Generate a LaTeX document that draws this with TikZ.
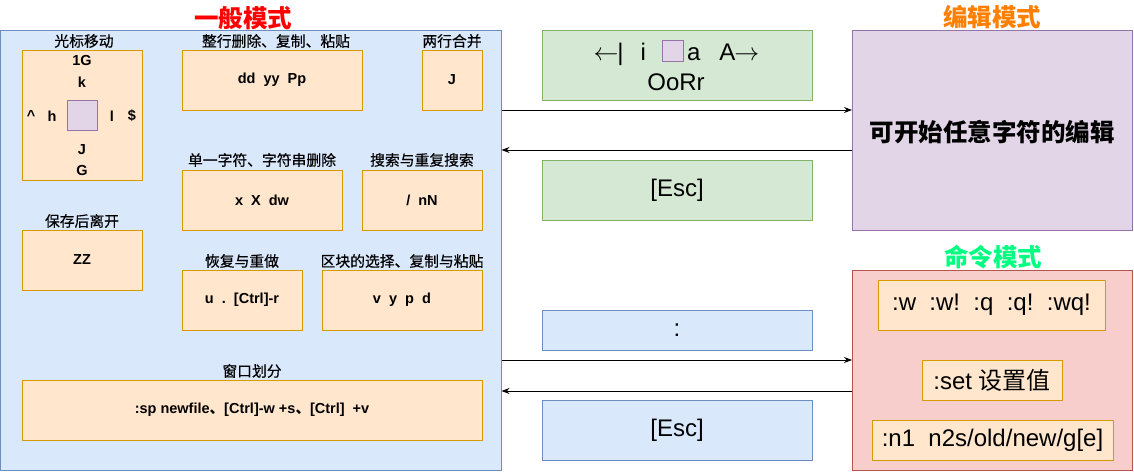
\documentclass[tikz,border=0pt]{standalone}
\usepackage{fontspec}
\setmainfont{Liberation Sans}
\newfontfamily\cjk{Noto Sans CJK SC}
\newfontfamily\cjkl[FakeBold=0.5]{Noto Sans CJK SC}
\usetikzlibrary{arrows.meta}
\definecolor{panelfill}{HTML}{DAE8FC}
\definecolor{panelline}{HTML}{6C8EBF}
\definecolor{ofill}{HTML}{FFE6CC}
\definecolor{oline}{HTML}{D79B00}
\definecolor{gfill}{HTML}{D5E8D4}
\definecolor{gline}{HTML}{82B366}
\definecolor{pfill}{HTML}{E1D5E7}
\definecolor{pline}{HTML}{9673A6}
\definecolor{rfill}{HTML}{F8CECC}
\definecolor{rline}{HTML}{B85450}
\definecolor{tred}{HTML}{FF0000}
\definecolor{torange}{HTML}{FF8000}
\definecolor{tgreen}{HTML}{00FF80}
\newcommand\fsz[1]{\fontsize{#1}{#1}\selectfont}
\begin{document}
\begin{tikzpicture}[x=1pt,y=-1pt,
  every node/.style={inner sep=0pt, outer sep=0pt},
  panel/.style={draw=panelline, fill=panelfill, line width=1pt},
  obox/.style={draw=oline, fill=ofill, line width=1pt},
  gbox/.style={draw=gline, fill=gfill, line width=1pt},
  bbox/.style={draw=panelline, fill=panelfill, line width=1pt},
  pbox/.style={draw=pline, fill=pfill, line width=1pt},
  rbox/.style={draw=rline, fill=rfill, line width=1pt},
  lbl/.style={font=\cjkl\fsz{14.8}},
  btxt/.style={font=\bfseries\fsz{14.5}},
  big/.style={font=\fsz{24}},
  ttl/.style={font=\cjk\bfseries\fsz{24.5}},
  arr/.style={-{Stealth[length=8pt,width=6pt]}, line width=1pt},
]
\fill[white] (0,0) rectangle (1134,471);
\useasboundingbox (0,0) rectangle (1134,471);

% general mode panel
\node[panel, minimum width=501pt, minimum height=440pt] (gen) at (251,250) {};
\node[ttl, text=tred] (t1) at (243,18) {一般模式};

% cursor movement
\node[lbl] (l1) at (84,41) {光标移动};
\node[obox, minimum width=120pt, minimum height=130pt] (cur) at (82,115) {};
\node[btxt] (c1G) at (82,61) {1G};
\node[btxt] (ck) at (82,82) {k};
\node[btxt] (ccar) at (31,116) {\textasciicircum};
\node[btxt] (ch) at (52,116) {h};
\node[pbox, minimum width=30pt, minimum height=30pt] (csq) at (82,115) {};
\node[btxt] (cl) at (112,116) {l};
\node[btxt] (cdol) at (132,116) {\$};
\node[btxt] (cJ) at (82,150) {J};
\node[btxt] (cG) at (82,171) {G};

% delete/copy/paste line
\node[lbl] (l2) at (276,41) {整行删除、复制、粘贴};
\node[obox, minimum width=180pt, minimum height=60pt] (dd) at (272,80) {};
\node[btxt] at (dd) {dd~~yy~~Pp};

% join lines
\node[lbl] (l3) at (452,41) {两行合并};
\node[obox, minimum width=60pt, minimum height=60pt] (jj) at (452,80) {};
\node[btxt] at (jj) {J};

% single char delete
\node[lbl] (l4) at (262,160) {单一字符、字符串删除};
\node[obox, minimum width=160pt, minimum height=60pt] (xx) at (262,200) {};
\node[btxt] at (xx) {x~~X~~dw};

% search
\node[lbl] (l5) at (422,160) {搜索与重复搜索};
\node[obox, minimum width=120pt, minimum height=60pt] (srch) at (422,200) {};
\node[btxt] at (srch) {/~~nN};

% save and quit
\node[lbl] (l6) at (82,221) {保存后离开};
\node[obox, minimum width=120pt, minimum height=60pt] (zz) at (82,260) {};
\node[btxt] at (zz) {ZZ};

% undo/redo
\node[lbl] (l7) at (242,261) {恢复与重做};
\node[obox, minimum width=120pt, minimum height=60pt] (undo) at (242,300) {};
\node[btxt] at (undo) {u~~.~~[Ctrl]-r};

% block
\node[lbl] (l8) at (402,261) {区块的选择、复制与粘贴};
\node[obox, minimum width=160pt, minimum height=60pt] (blk) at (402,300) {};
\node[btxt] at (blk) {v~~y~~p~~d};

% window split
\node[lbl] (l9) at (252,371) {窗口划分};
\node[obox, minimum width=460pt, minimum height=60pt] (win) at (252,410) {};
\node[btxt] at (win) {:sp newfile{\cjk\bfseries 、}[Ctrl]-w +s{\cjk\bfseries 、}[Ctrl]~~+v};

% edit mode
\node[ttl, text=torange] (t2) at (992,17) {编辑模式};
\node[pbox, minimum width=280pt, minimum height=200pt] (edit) at (992,130) {};
\node[font=\cjk\bfseries\fsz{24.5}] at (992,132) {可开始任意字符的编辑};

% command mode
\node[ttl, text=tgreen] (t3) at (993,257) {命令模式};
\node[rbox, minimum width=280pt, minimum height=200pt] (cmd) at (992,370) {};
\node[obox, minimum width=227pt, minimum height=50pt] (cw) at (991.5,305) {};
\node[big] at (cw) {:w~~:w!~~:q~~:q!~~:wq!};
\node[obox, minimum width=140pt, minimum height=40pt] (cset) at (992,380) {};
\node[big] at (cset) {:set {\cjk 设置值}};
\node[obox, minimum width=241pt, minimum height=40pt] (cn) at (992.5,440) {};
\node[big] at (cn) {:n1~~n2s/old/new/g[e]};

% transition boxes
\node[gbox, minimum width=270pt, minimum height=70pt] (g1) at (677,65) {};
\node[big, anchor=base east] (g1a) at (646,60) {$\leftarrow$\kern-1pt|\hspace{17pt}i};
\node[pbox, minimum width=21pt, minimum height=21pt] (g1sq) at (672.5,51) {};
\node[big, anchor=base west] (g1b) at (687,60) {a\hspace{19pt}A\kern-1pt$\rightarrow$};
\node[big] (g1c) at (676,82) {OoRr};
\node[gbox, minimum width=270pt, minimum height=60pt] (g2) at (677,190) {};
\node[big] at (g2) {[Esc]};
\node[bbox, minimum width=270pt, minimum height=40pt] (b1) at (677,330) {};
\node[big] at (b1) {:};
\node[bbox, minimum width=270pt, minimum height=60pt] (b2) at (677,430) {};
\node[big] at (b2) {[Esc]};

% arrows
\draw[arr] (gen.east |- 0,110) -- (edit.west |- 0,110);
\draw[arr] (edit.west |- 0,150) -- (gen.east |- 0,150);
\draw[arr] (gen.east |- 0,360) -- (cmd.west |- 0,360);
\draw[arr] (cmd.west |- 0,391) -- (gen.east |- 0,391);
\end{tikzpicture}
\end{document}
